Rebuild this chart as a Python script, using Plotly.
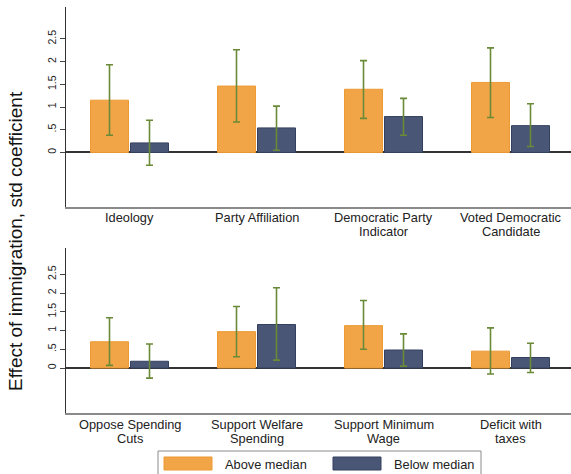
import plotly.graph_objects as go
from plotly.subplots import make_subplots

# ---- data ----
series_names = ["Above median", "Below median"]

top_categories = ["Ideology", "Party Affiliation", "Democratic Party<br>Indicator", "Voted Democratic<br>Candidate"]
above_top = [1.15, 1.46, 1.39, 1.54]
above_top_lo = [0.38, 0.67, 0.75, 0.77]
above_top_hi = [1.93, 2.26, 2.02, 2.30]
below_top = [0.21, 0.54, 0.79, 0.59]
below_top_lo = [-0.28, 0.05, 0.38, 0.13]
below_top_hi = [0.71, 1.02, 1.19, 1.07]

bot_categories = ["Oppose Spending<br>Cuts", "Support Welfare<br>Spending", "Support Minimum<br>Wage", "Deficit with<br>taxes"]
above_bot = [0.70, 0.97, 1.13, 0.45]
above_bot_lo = [0.07, 0.30, 0.50, -0.16]
above_bot_hi = [1.34, 1.64, 1.80, 1.07]
below_bot = [0.18, 1.16, 0.48, 0.28]
below_bot_lo = [-0.27, 0.21, 0.05, -0.12]
below_bot_hi = [0.64, 2.14, 0.91, 0.66]

y_tickvals = [0, 0.5, 1, 1.5, 2, 2.5]
y_ticktext = ["0", ".5", "1", "1.5", "2", "2.5"]
y_title = "Effect of immigration, std coefficient"

# ---- styles ----
ORANGE = "#F1A547"
ORANGE_LINE = "#EC9A33"
BLUE = "#4A5676"
BLUE_LINE = "#34405F"
ERR = "#6A8A37"
FONT = "Liberation Sans, Arial, sans-serif"

W, H = 571, 474
L, R, T, B = 66, 0, 7, 61
pw, ph = W - L - R, H - T - B


def px_x(p):
    return (p - L) / pw


def px_y(p):
    return (H - B - p) / ph


fig = make_subplots(rows=2, cols=1, vertical_spacing=0.05)


def add_panel(row, cats, a, alo, ahi, b, blo, bhi):
    for name, vals, lo, hi, col, lcol in [
        (series_names[0], a, alo, ahi, ORANGE, ORANGE_LINE),
        (series_names[1], b, blo, bhi, BLUE, BLUE_LINE),
    ]:
        fig.add_trace(
            go.Bar(
                x=cats,
                y=vals,
                name=name,
                showlegend=False,
                marker=dict(color=col, line=dict(color=lcol, width=1)),
                error_y=dict(
                    type="data",
                    symmetric=False,
                    array=[h - v for h, v in zip(hi, vals)],
                    arrayminus=[v - l for v, l in zip(vals, lo)],
                    color=ERR,
                    thickness=1.6,
                    width=3.5,
                ),
            ),
            row=row,
            col=1,
        )


add_panel(1, top_categories, above_top, above_top_lo, above_top_hi, below_top, below_top_lo, below_top_hi)
add_panel(2, bot_categories, above_bot, above_bot_lo, above_bot_hi, below_bot, below_bot_lo, below_bot_hi)

fig.update_layout(
    width=W,
    height=H,
    margin=dict(l=L, r=R, t=T, b=B),
    paper_bgcolor="white",
    plot_bgcolor="white",
    barmode="group",
    bargap=0.37,
    bargroupgap=0.05,
    font=dict(family=FONT, color="#222"),
    showlegend=False,
)

top_dom = [px_y(207), 1.0]
bot_dom = [0.0, px_y(248)]
fig.update_yaxes(domain=top_dom, row=1, col=1)
fig.update_yaxes(domain=bot_dom, row=2, col=1)

for row in (1, 2):
    fig.update_xaxes(
        row=row, col=1,
        type="category",
        range=[-0.5, -0.5 + pw / 127.0],
        showline=True, linecolor="#8a8a8a", linewidth=1.5,
        showgrid=False, ticks="", zeroline=False,
        showticklabels=False,
    )
    fig.update_yaxes(
        row=row, col=1,
        range=[-1.2, 3.2],
        tickvals=y_tickvals, ticktext=y_ticktext,
        tickangle=-90,
        ticks="outside", ticklen=5, tickcolor="#444", tickwidth=1,
        tickfont=dict(size=10.5, color="#222", family=FONT),
        showline=True, linecolor="#333", linewidth=1.3,
        showgrid=False,
        zeroline=True, zerolinecolor="#333", zerolinewidth=1.5,
    )

# category labels: one annotation per line for tight line spacing (as in the reference)
for xref, cats, first_line_y in [("x", top_categories, 217.5), ("x2", bot_categories, 424.5)]:
    for cat in cats:
        for i, line in enumerate(cat.split("<br>")):
            fig.add_annotation(
                text=line, xref=xref, yref="paper", x=cat,
                y=px_y(first_line_y + i * 13.6), xanchor="center", yanchor="middle",
                showarrow=False, font=dict(size=12.8, color="#222", family=FONT),
                borderpad=0,
            )

# y-axis title (shared)
fig.add_annotation(
    text=y_title, xref="paper", yref="paper",
    x=px_x(15), y=px_y(241), xanchor="center", yanchor="middle",
    textangle=-90, showarrow=False,
    font=dict(size=19, color="#111", family=FONT),
)

# legend (drawn manually to match wide swatches)
fig.add_shape(type="rect", xref="paper", yref="paper",
              x0=px_x(158), x1=px_x(481), y0=px_y(451), y1=px_y(482),
              line=dict(color="#8a8a8a", width=1), fillcolor="white")
for name, col, lcol, sx, tx in [
    (series_names[0], ORANGE, ORANGE_LINE, 164, 223),
    (series_names[1], BLUE, BLUE_LINE, 333, 392),
]:
    fig.add_shape(type="rect", xref="paper", yref="paper",
                  x0=px_x(sx), x1=px_x(sx + 48), y0=px_y(457), y1=px_y(470),
                  line=dict(color=lcol, width=1), fillcolor=col)
    fig.add_annotation(text=name, xref="paper", yref="paper",
                       x=px_x(tx), y=px_y(464), xanchor="left", yanchor="middle",
                       showarrow=False, font=dict(size=12.8, color="#222", family=FONT))

fig.write_html(
    "out.html",
    config={"displayModeBar": False},
    post_script="document.body.style.margin='0';document.body.style.overflow='hidden';",
)
